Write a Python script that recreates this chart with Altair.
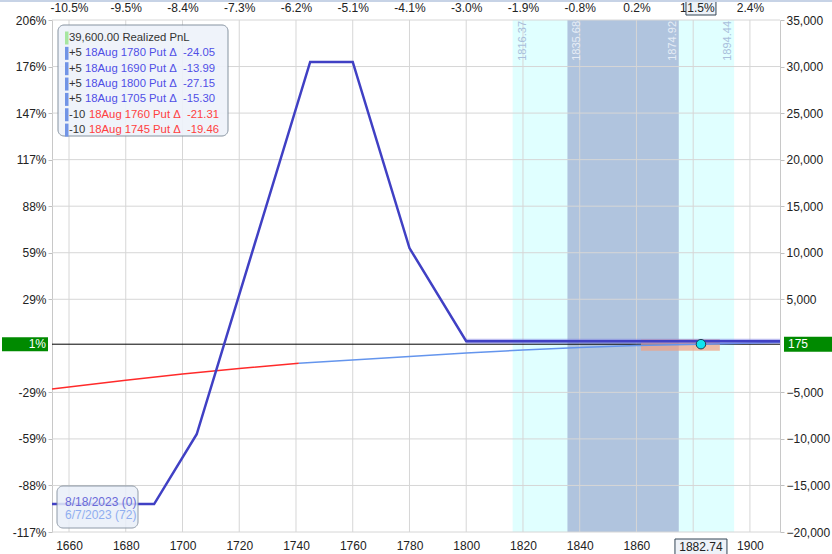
import json
import altair as alt
import pandas as pd

# ---------------- data ----------------
x_ticks = [1660, 1680, 1700, 1720, 1740, 1760, 1780, 1800, 1820, 1840, 1860, 1880, 1900]
top_labels = ["-10.5%", "-9.5%", "-8.4%", "-7.3%", "-6.2%", "-5.1%", "-4.1%", "-3.0%",
              "-1.9%", "-0.8%", "0.2%", "1.3%", "2.4%"]
y_ticks = [-20000, -15000, -10000, -5000, 5000, 10000, 15000, 20000, 25000, 30000, 35000]
left_labels = ["-117%", "-88%", "-59%", "-29%", "29%", "59%", "88%", "117%", "147%", "176%", "206%"]

x_domain = [1654, 1910.6]
y_domain = [-20000, 35000]

exp_price = [1654, 1690, 1705, 1745, 1760, 1780, 1800, 1910.6]
exp_pnl = [-17000, -17000, -9500, 30500, 30500, 10500, 500, 500]
halo_price = [1800, 1910.6]
halo_pnl = [500, 500]

t0_red_price = [1654, 1680, 1700, 1720, 1741]
t0_red_pnl = [-4640, -3700, -3030, -2430, -1880]
t0_blue_price = [1741, 1770, 1800, 1820, 1840, 1860, 1882.74, 1910.6]
t0_blue_pnl = [-1880, -1330, -770, -450, -170, 40, 175, 380]

current_price = 1882.74
current_pnl = 175
current_zone = [1861.6, 1889.4]
current_zone_pnl = [-520, 700]

band_outer = [1816.37, 1894.44]
band_inner = [1835.68, 1874.92]

realized_text = "39,600.00 Realized PnL"
legend_qty = ["+5", "+5", "+5", "+5", "-10", "-10"]
legend_desc = ["18Aug 1780 Put \u0394\u00a0 -24.05", "18Aug 1690 Put \u0394\u00a0 -13.99",
               "18Aug 1800 Put \u0394\u00a0 -27.15", "18Aug 1705 Put \u0394\u00a0 -15.30",
               "18Aug 1760 Put \u0394\u00a0 -21.31", "18Aug 1745 Put \u0394\u00a0 -19.46"]
date_labels = ["8/18/2023 (0)", "6/7/2023 (72)"]
pct_label_left = "1%"
pct_label_top = "1.5%"

# ---------------- styling ----------------
FONT = "Liberation Sans"
LSIZE = 11.3
DSIZE = 12
W, H = 728, 512
xs = alt.Scale(domain=x_domain, nice=False, zero=False)
ys = alt.Scale(domain=y_domain, nice=False, zero=False)
one = pd.DataFrame({"a": [0]})


def X(field=None, datum=None):
    if datum is not None:
        return alt.X(datum=datum, type="quantitative", scale=xs, axis=None)
    return alt.X(field, type="quantitative", scale=xs, axis=None)


def Y(field=None, datum=None):
    if datum is not None:
        return alt.Y(datum=datum, type="quantitative", scale=ys, axis=None)
    return alt.Y(field, type="quantitative", scale=ys, axis=None)


def box_shape(w, h):
    r = h / w
    return f"M-1,-{r:.4f}L1,-{r:.4f}L1,{r:.4f}L-1,{r:.4f}Z"


layers = []

# bands
layers.append(alt.Chart(pd.DataFrame({"lo": [band_outer[0]], "hi": [band_outer[1]]}))
              .mark_rect(fill="#e0ffff").encode(x=X("lo"), x2="hi", y=alt.value(0), y2=alt.value(H)))
layers.append(alt.Chart(pd.DataFrame({"lo": [band_inner[0]], "hi": [band_inner[1]]}))
              .mark_rect(fill="#b0c4de").encode(x=X("lo"), x2="hi", y=alt.value(0), y2=alt.value(H)))

# vertical grid + bottom axis
xdf = pd.DataFrame({"v": x_ticks})
layers.append(alt.Chart(xdf).mark_rule(color="#d6d6d6", strokeWidth=1).encode(
    x=alt.X("v:Q", scale=xs, axis=alt.Axis(orient="bottom", values=x_ticks, format="d", title=None,
                                           domain=False, ticks=False, labelPadding=8))))
# top axis
top_expr = f"{json.dumps(top_labels)}[indexof({json.dumps(x_ticks)}, datum.value)]"
layers.append(alt.Chart(xdf).mark_rule(opacity=0).encode(
    x=alt.X("v:Q", scale=xs, axis=alt.Axis(orient="top", values=x_ticks, labelExpr=top_expr, title=None,
                                           domain=False, ticks=False, labelPadding=6))))

# horizontal grid + left axis
ydf = pd.DataFrame({"v": y_ticks})
left_expr = f"{json.dumps(left_labels)}[indexof({json.dumps(y_ticks)}, datum.value)]"
layers.append(alt.Chart(ydf).mark_rule(color="#d6d6d6", strokeWidth=1).encode(
    y=alt.Y("v:Q", scale=ys, axis=alt.Axis(orient="left", values=y_ticks, labelExpr=left_expr, title=None,
                                           tickSize=4, labelPadding=2))))
# right axis
layers.append(alt.Chart(ydf).mark_rule(opacity=0).encode(
    y=alt.Y("v:Q", scale=ys, axis=alt.Axis(orient="right", values=y_ticks, format=",d", title=None,
                                           tickSize=4, labelPadding=2))))

# band edge labels
left_edges = pd.DataFrame({"v": [band_outer[0], band_inner[0]], "c": ["#a9bedb", "#e6edf6"]})
right_edges = pd.DataFrame({"v": [band_inner[1], band_outer[1]], "c": ["#e6edf6", "#a9bedb"]})
layers.append(alt.Chart(left_edges).mark_text(angle=270, align="right", baseline="top", dy=4,
                                              fontSize=11, font=FONT).encode(
    x=X("v"), y=alt.value(1), text=alt.Text("v:Q", format=".2f"), color=alt.Color("c:N", scale=None)))
layers.append(alt.Chart(right_edges).mark_text(angle=270, align="right", baseline="bottom", dy=-1,
                                               fontSize=11, font=FONT).encode(
    x=X("v"), y=alt.value(1), text=alt.Text("v:Q", format=".2f"), color=alt.Color("c:N", scale=None)))

# current value line
layers.append(alt.Chart(one).mark_rule(color="black", strokeWidth=1).encode(y=Y(datum=current_pnl)))

# current zone
layers.append(alt.Chart(pd.DataFrame({"lo": [current_zone[0]], "hi": [current_zone[1]],
                                      "b": [current_zone_pnl[0]], "t": [current_zone_pnl[1]]}))
              .mark_rect(fill="#f2a080", opacity=0.7).encode(x=X("lo"), x2="hi", y=Y("b"), y2="t"))

# T+0 line
layers.append(alt.Chart(pd.DataFrame({"p": t0_red_price, "v": t0_red_pnl}))
              .mark_line(color="#ff2a2a", strokeWidth=1.5).encode(x=X("p"), y=Y("v")))
layers.append(alt.Chart(pd.DataFrame({"p": t0_blue_price, "v": t0_blue_pnl}))
              .mark_line(color="#6495ed", strokeWidth=1.5).encode(x=X("p"), y=Y("v")))

# expiration line
layers.append(alt.Chart(pd.DataFrame({"p": halo_price, "v": halo_pnl}))
              .mark_line(color="#7a7ae0", strokeWidth=5, opacity=0.5).encode(x=X("p"), y=Y("v")))
layers.append(alt.Chart(pd.DataFrame({"p": exp_price, "v": exp_pnl}))
              .mark_line(color="#4040c4", strokeWidth=2.5).encode(x=X("p"), y=Y("v")))

# current point
layers.append(alt.Chart(pd.DataFrame({"p": [current_price], "v": [current_pnl]}))
              .mark_point(filled=True, fill="#10e4f0", stroke="#1e3c50", strokeWidth=1, size=90, opacity=1)
              .encode(x=X("p"), y=Y("v")))

# legend box
layers.append(alt.Chart(one).mark_rect(fill="#eef3fa", opacity=0.92, stroke="#7d8a99", strokeWidth=1,
                                       cornerRadius=6).encode(
    x=alt.value(6), x2=alt.value(176), y=alt.value(5), y2=alt.value(116)))
row0 = 18
step = 15.35
layers.append(alt.Chart(one).mark_rect(fill="#a6e6a0").encode(
    x=alt.value(13), x2=alt.value(16.5), y=alt.value(row0 - 6.5), y2=alt.value(row0 + 6.5)))
layers.append(alt.Chart(pd.DataFrame({"t": [realized_text]})).mark_text(
    align="left", baseline="middle", fontSize=LSIZE, font=FONT, color="#333333").encode(
    x=alt.value(17), y=alt.value(row0), text="t:N"))
for i, (q, d) in enumerate(zip(legend_qty, legend_desc)):
    ry = row0 + step * (i + 1)
    col = "#4f4fe6" if q.startswith("+") else "#ff4040"
    dx = 33 if q.startswith("+") else 37
    layers.append(alt.Chart(one).mark_rect(fill="#7194e6").encode(
        x=alt.value(13), x2=alt.value(16.5), y=alt.value(ry - 6.5), y2=alt.value(ry + 6.5)))
    layers.append(alt.Chart(pd.DataFrame({"t": [q]})).mark_text(
        align="left", baseline="middle", fontSize=LSIZE, font=FONT, color="#333333").encode(
        x=alt.value(17), y=alt.value(ry), text="t:N"))
    layers.append(alt.Chart(pd.DataFrame({"t": [d]})).mark_text(
        align="left", baseline="middle", fontSize=LSIZE, font=FONT, color=col).encode(
        x=alt.value(dx), y=alt.value(ry), text="t:N"))

# date box
layers.append(alt.Chart(one).mark_rect(fill="#e9eff9", opacity=0.85, stroke="#7d8a99", strokeWidth=1,
                                       cornerRadius=6).encode(
    x=alt.value(5), x2=alt.value(86), y=alt.value(466), y2=alt.value(508)))
for i, (t, c) in enumerate(zip(date_labels, ["#6a6ad8", "#90aef0"])):
    layers.append(alt.Chart(pd.DataFrame({"t": [t]})).mark_text(
        align="left", baseline="middle", fontSize=DSIZE, font=FONT, color=c).encode(
        x=alt.value(13), y=alt.value(481.5 + 13 * i), text="t:N"))

# green value labels
layers.append(alt.Chart(one).mark_point(shape=box_shape(46, 14), size=46 ** 2, filled=True, fill="#008a00",
                                        opacity=1).encode(x=alt.value(-27), y=Y(datum=current_pnl)))
layers.append(alt.Chart(pd.DataFrame({"t": [pct_label_left]})).mark_text(
    align="right", baseline="middle", fontSize=12, font=FONT, color="white").encode(
    x=alt.value(-6), y=Y(datum=current_pnl), text="t:N"))
layers.append(alt.Chart(one).mark_point(shape=box_shape(48, 15), size=48 ** 2, filled=True, fill="#008a00",
                                        opacity=1).encode(x=alt.value(756), y=Y(datum=current_pnl)))
layers.append(alt.Chart(pd.DataFrame({"t": [str(current_pnl)]})).mark_text(
    align="left", baseline="middle", fontSize=12, font=FONT, color="white").encode(
    x=alt.value(736), y=Y(datum=current_pnl), text="t:N"))

# current price boxes (top / bottom)
layers.append(alt.Chart(one).mark_point(shape=box_shape(30, 14), size=30 ** 2, filled=True, fill="#eef2f8",
                                        stroke="#334455", strokeWidth=1, opacity=1).encode(
    x=X(datum=current_price), y=alt.value(-12)))
layers.append(alt.Chart(pd.DataFrame({"t": [pct_label_top]})).mark_text(
    align="center", baseline="middle", fontSize=12, font=FONT, color="#222222").encode(
    x=X(datum=current_price), y=alt.value(-12), text="t:N"))
layers.append(alt.Chart(one).mark_point(shape=box_shape(52, 16), size=52 ** 2, filled=True, fill="#eef2f8",
                                        stroke="#334455", strokeWidth=1, opacity=1).encode(
    x=X(datum=current_price), y=alt.value(527)))
layers.append(alt.Chart(pd.DataFrame({"t": [f"{current_price:.2f}"]})).mark_text(
    align="center", baseline="middle", fontSize=12, font=FONT, color="#222222").encode(
    x=X(datum=current_price), y=alt.value(527), text="t:N"))

# top border
layers.append(alt.Chart(one).mark_rule(color="#c7d3e6", strokeWidth=2).encode(
    x=alt.value(-52), x2=alt.value(780), y=alt.value(-19)))

chart = (alt.layer(*layers)
         .resolve_axis(x="independent", y="independent")
         .properties(width=W, height=H, autosize=alt.AutoSizeParams(type="none"),
                     padding={"left": 52, "top": 20, "right": 52, "bottom": 22})
         .configure_view(stroke=None)
         .configure_axis(labelFont=FONT, labelFontSize=12, labelColor="#222222", grid=False,
                         tickColor="#c0c0c0", domainColor="#c8c8c8"))

chart.save("out.html", embed_options={"renderer": "svg", "actions": False})
